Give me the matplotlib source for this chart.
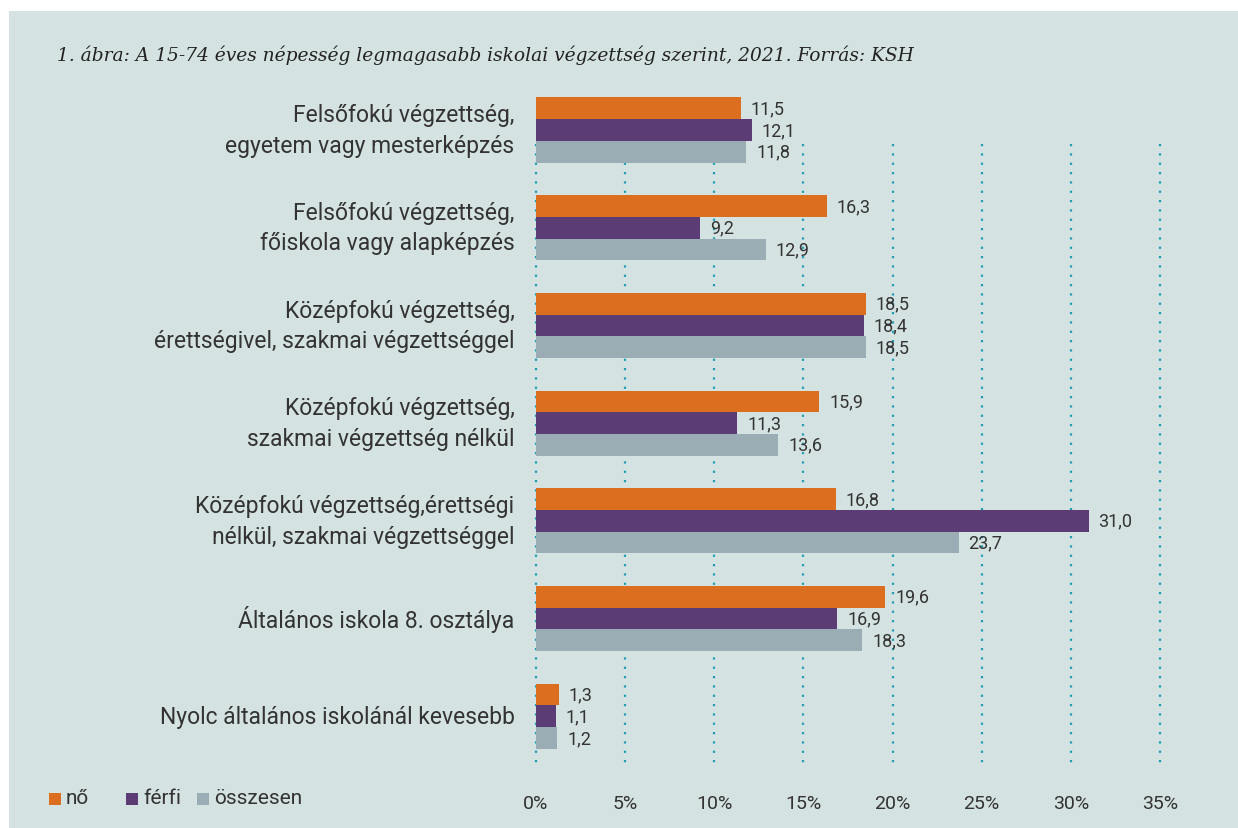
import numpy as np
import matplotlib.pyplot as plt
from matplotlib.patches import Rectangle

categories = [
    "Felsőfokú végzettség,\negyetem vagy mesterképzés",
    "Felsőfokú végzettség,\nfőiskola vagy alapképzés",
    "Középfokú végzettség,\nérettségivel, szakmai végzettséggel",
    "Középfokú végzettség,\nszakmai végzettség nélkül",
    "Középfokú végzettség,érettségi\nnélkül, szakmai végzettséggel",
    "Általános iskola 8. osztálya",
    "Nyolc általános iskolánál kevesebb",
]
no = [11.5, 16.3, 18.5, 15.9, 16.8, 19.6, 1.3]
ferfi = [12.1, 9.2, 18.4, 11.3, 31.0, 16.9, 1.1]
osszesen = [11.8, 12.9, 18.5, 13.6, 23.7, 18.3, 1.2]
series_names = ["nő", "férfi", "összesen"]
xticks = [0, 5, 10, 15, 20, 25, 30, 35]

colors = ["#dc6e1f", "#5c3c74", "#9aacb4"]
bg = "#d4e2e1"
grid_col = "#1e9fb4"
txt = "#333333"

plt.rcParams["font.family"] = ["Roboto", "DejaVu Sans"]

W, H = 1238, 829
fig = plt.figure(figsize=(W / 100, H / 100), dpi=100)
fig.patch.set_facecolor("white")
fig.patches.append(Rectangle((9 / W, 0), 1, 1 - 12 / H, transform=fig.transFigure,
                             facecolor=bg, edgecolor="none", zorder=-10))

# axes: 0% at x=536px, 35% at x=1160px; y from 92px to 770px
left, right = 536, 1160
top, bottom = 92, 770
ax = fig.add_axes([left / W, 1 - bottom / H, (right - left) / W, (bottom - top) / H])
ax.set_facecolor("none")

step = 97.7  # px between group centres
c0 = 131     # px of first group centre
ax.set_xlim(0, 35)
ax.set_ylim((bottom - c0) / step, (top - c0) / step)

y = np.arange(len(categories))
bh = 0.222
for k, (vals, col) in enumerate(zip([no, ferfi, osszesen], colors)):
    yy = y + (k - 1) * bh
    ax.barh(yy, vals, height=bh, color=col, zorder=2)
    for yi, v in zip(yy, vals):
        ax.text(v + 0.55, yi, f"{v:.1f}".replace(".", ","), va="center", ha="left",
                fontsize=13, color=txt, zorder=3)

# dotted vertical guide lines
grid_top = (145 - c0) / step
ax.vlines(xticks, grid_top, ax.get_ylim()[0], colors=grid_col, linestyles=(0, (1, 3.2)),
          linewidth=1.6, zorder=1, clip_on=False)

for yi, lab in zip(y, categories):
    ax.text(-1.2, yi, lab, ha="right", va="center", fontsize=16.5, color=txt,
            linespacing=1.42)

ax.set_xticks([])
ax.set_yticks([])
for s in ax.spines.values():
    s.set_visible(False)

for t in xticks:
    fig.text((left + t / 35 * (right - left)) / W, 1 - 804 / H, f"{t}%", ha="center",
             va="center", fontsize=14, color=txt)

fig.text(57 / W, 1 - 55 / H,
         "1. ábra: A 15-74 éves népesség legmagasabb iskolai végzettség szerint, 2021. Forrás: KSH",
         fontsize=13.4, style="italic", family=["DejaVu Serif"], color="#222222",
         va="center", ha="left")

# legend keys
for name, col, kx in zip(series_names, colors, [49, 126, 197]):
    fig.patches.append(Rectangle((kx / W, 1 - 806 / H), 12 / W, 12 / H,
                                 transform=fig.transFigure, facecolor=col,
                                 edgecolor="none"))
    fig.text((kx + 17) / W, 1 - 799 / H, name, ha="left", va="center",
             fontsize=15, color=txt)

fig.savefig("out.png", dpi=100, facecolor=fig.get_facecolor())
